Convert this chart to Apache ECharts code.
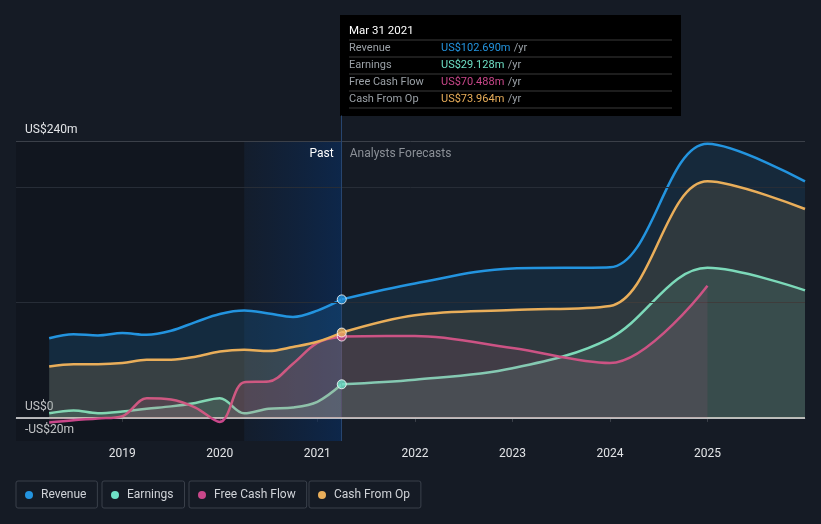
<!DOCTYPE html>
<html><head><meta charset="utf-8">
<script src="https://cdn.jsdelivr.net/npm/echarts@6/dist/echarts.min.js"></script>
<style>html,body{margin:0;padding:0;background:#151b25;}#c{width:821px;height:524px;}</style>
</head><body><div id="c"></div>
<script>
// ---- data ----
const pastX = [2018.25, 2018.5, 2018.75, 2019, 2019.25, 2019.5, 2019.75, 2020, 2020.25, 2020.5, 2020.75, 2021, 2021.25];
const revenuePast  = [69, 72.5, 71.5, 73.5, 72, 75.5, 83, 90, 93, 90.5, 87.5, 93, 102.690];
const earningsPast = [4, 6.5, 4, 5.5, 8, 10, 13, 17, 4, 8, 9, 14, 29.128];
const fcfPast      = [-4, -2, -0.5, 1.5, 17, 16, 9, -3.5, 31, 31.5, 47, 65, 70.488];
const cfoPast      = [44.5, 46.5, 46.5, 47.5, 50.5, 50.5, 53, 57.5, 59, 58, 61.5, 66, 73.964];

const forecastX    = [2021.25, 2022, 2023, 2024, 2025, 2026];
const revenueFc    = [102.690, 116.5, 129.5, 130.5, 237.5, 205];
const earningsFc   = [29.128, 33, 43, 69, 130, 110.5];
const fcfFc        = [70.488, 71, 60.5, 47.5, 114.5];
const cfoFc        = [73.964, 89, 93.5, 97, 205, 181];

const seriesNames  = ['Revenue', 'Earnings', 'Free Cash Flow', 'Cash From Op'];
const yearTicks    = [2019, 2020, 2021, 2022, 2023, 2024, 2025];
const yLabelValues = [-20, 0, 240];
const gridValues   = [100, 200];
const topGridValue = 240;
const highlightStart = 2020.25;
const nowX = 2021.25;
const tooltipDate = 'Mar 31 2021';
const legendLefts = [16, 102, 189, 309];

// ---- styles ----
const colors = ['#2394df', '#6ee0c6', '#c9478a', '#e9ae5a'];
const pasts = [revenuePast, earningsPast, fcfPast, cfoPast];
const fcs = [revenueFc, earningsFc, fcfFc, cfoFc];
const FONT = 'Roboto, "Noto Sans", sans-serif';
const xMin = 2017.91, xMax = 2026, yMin = -20, yMax = 262;

function zip(xs, ys) { return ys.map((v, i) => [xs[i], v]); }
function fmtY(v) { return v < 0 ? '-US$' + (-v) + 'm' : (v === 0 ? 'US$0' : 'US$' + v + 'm'); }

const series = [];
// helper series carrying background decorations
series.push({
  type: 'line', data: [[nowX, 0]], symbol: 'none', lineStyle: { width: 0 }, silent: true, z: 1,
  markArea: {
    silent: true,
    data: [
      [{ xAxis: xMin, yAxis: yMin, itemStyle: { color: 'rgba(0,0,0,0.15)' } }, { xAxis: highlightStart, yAxis: topGridValue }],
      [{ xAxis: highlightStart, yAxis: yMin,
         itemStyle: { color: new echarts.graphic.LinearGradient(0, 0, 1, 0, [
           { offset: 0, color: 'rgba(12,40,80,0.18)' }, { offset: 1, color: 'rgba(10,44,90,0.7)' }]) },
         label: { show: true, position: 'insideTopRight', formatter: 'Past', color: '#ffffff', fontSize: 12, fontFamily: FONT, distance: 6, padding: [1, 2, 0, 0] } },
       { xAxis: nowX, yAxis: topGridValue }],
      [{ xAxis: nowX, yAxis: yMin, itemStyle: { color: 'rgba(0,0,0,0)' },
         label: { show: true, position: 'insideTopLeft', formatter: 'Analysts Forecasts', color: '#8b9097', fontSize: 12, fontFamily: FONT, distance: 6, padding: [1, 0, 0, 2] } },
       { xAxis: xMax, yAxis: topGridValue }]
    ]
  },
  markLine: {
    silent: true, symbol: 'none', label: { show: false },
    data: [
      ...gridValues.map(v => ({ yAxis: v, lineStyle: { color: '#272d37', width: 1, type: 'solid' } })),
      { yAxis: topGridValue, lineStyle: { color: '#3b4049', width: 1, type: 'solid' } },
      [{ coord: [nowX, yMin], lineStyle: { color: '#27456f', width: 1, type: 'solid' } }, { coord: [nowX, yMax] }]
    ]
  }
});

seriesNames.forEach((name, i) => {
  series.push({
    name, type: 'line', data: zip(pastX, pasts[i]), smooth: 0.35, symbol: 'none', z: 3 + i,
    lineStyle: { color: colors[i], width: 2.5 }, itemStyle: { color: colors[i] },
    areaStyle: { color: colors[i], opacity: 0.17 }
  });
  series.push({
    name, type: 'line', data: zip(forecastX, fcs[i]), smooth: 0.35, symbol: 'none', z: 3 + i,
    lineStyle: { color: colors[i], width: 2.5 }, itemStyle: { color: colors[i] },
    areaStyle: { color: colors[i], opacity: 0.12 }
  });
});
// zero line on top of fills
series.push({
  type: 'line', data: [[nowX, 0]], symbol: 'none', lineStyle: { width: 0 }, silent: true, z: 9,
  markLine: { silent: true, symbol: 'none', label: { show: false },
    data: [{ yAxis: 0, lineStyle: { color: '#e8e8e8', width: 1.5, type: 'solid' } }] }
});
// current-point dots
seriesNames.forEach((name, i) => {
  series.push({
    type: 'scatter', data: [[nowX, pasts[i][pasts[i].length - 1]]], symbol: 'circle', symbolSize: 9, z: 10 + i,
    itemStyle: { color: colors[i], borderColor: '#ffffff', borderWidth: 1 }, silent: true
  });
});

// tooltip box built from data
const rows = [];
const rowY0 = 40, rowH = 17;
seriesNames.forEach((name, i) => {
  const v = pasts[i][pasts[i].length - 1];
  rows.push({ type: 'line', shape: { x1: 349, y1: rowY0 + rowH * i, x2: 672, y2: rowY0 + rowH * i }, style: { stroke: '#3a3a3a', lineWidth: 1 } });
  rows.push({ type: 'text', x: 349, y: rowY0 + rowH * i + 8.5, style: { text: name, fill: '#9aa0a6', font: '11px ' + FONT, verticalAlign: 'middle' } });
  rows.push({ type: 'text', x: 441, y: rowY0 + rowH * i + 8.5, style: {
    text: '{v|US$' + v.toFixed(3) + 'm} {u|/yr}', verticalAlign: 'middle',
    rich: { v: { fill: colors[i], font: '11px ' + FONT }, u: { fill: '#9aa0a6', font: '11px ' + FONT } } } });
});
rows.push({ type: 'line', shape: { x1: 349, y1: rowY0 + rowH * 4, x2: 672, y2: rowY0 + rowH * 4 }, style: { stroke: '#3a3a3a', lineWidth: 1 } });

const legends = seriesNames.map((name, i) => ({
  data: [name], left: legendLefts[i], top: 481, icon: 'circle', itemWidth: 14, itemHeight: 8,
  padding: [8, 11, 7, 9], borderColor: '#3a404b', borderWidth: 1, borderRadius: 2, selectedMode: false,
  textStyle: { color: '#d0d3d8', fontSize: 12, fontFamily: FONT, lineHeight: 12 }
}));

const option = {
  backgroundColor: '#151b25',
  animation: false,
  grid: { left: 16, right: 16, top: 115.5, bottom: 83 },
  xAxis: {
    type: 'value', min: xMin, max: xMax,
    axisLine: { lineStyle: { color: '#3b4049' } },
    axisTick: { customValues: yearTicks, length: 4, lineStyle: { color: '#3b4049' } },
    axisLabel: { customValues: yearTicks, color: '#e2e4e7', fontSize: 12, fontFamily: FONT, margin: 7, formatter: v => String(v) },
    splitLine: { show: false }
  },
  yAxis: {
    type: 'value', min: yMin, max: yMax,
    axisLine: { show: false }, axisTick: { show: false }, splitLine: { show: false },
    axisLabel: { customValues: yLabelValues, inside: true, margin: 9, verticalAlign: 'bottom', padding: [0, 0, 5, 0],
      color: '#e2e4e7', fontSize: 12, fontFamily: FONT, formatter: fmtY }
  },
  legend: legends,
  series,
  graphic: [{
    type: 'group', z: 100, children: [
      { type: 'rect', shape: { x: 340, y: 15, width: 341, height: 101 }, style: { fill: '#000000' } },
      { type: 'text', x: 349, y: 31, style: { text: tooltipDate, fill: '#ffffff', font: '11.5px ' + FONT, verticalAlign: 'middle' } },
      ...rows
    ]
  }]
};
const chart = echarts.init(document.getElementById('c'), null, { renderer: 'canvas' });
chart.setOption(option);
</script></body></html>
